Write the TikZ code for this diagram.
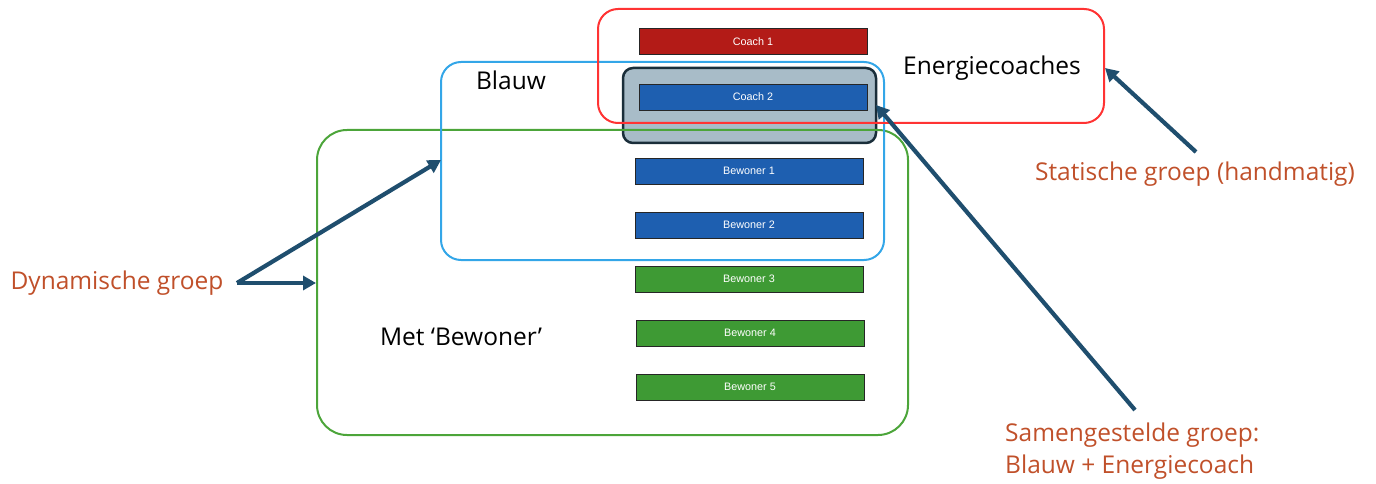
\documentclass[tikz,border=0pt]{standalone}
\usepackage{fontspec}
\setmainfont{Open Sans}
\newfontfamily\boxfont{Liberation Sans}
\usetikzlibrary{arrows.meta}
\definecolor{cred}{HTML}{FF3333}
\definecolor{cblue}{HTML}{33A6E8}
\definecolor{cgreen}{HTML}{4CA53A}
\definecolor{cdark}{HTML}{1A2E3A}
\definecolor{cgray}{HTML}{A8BCC8}
\definecolor{fred}{HTML}{B31B17}
\definecolor{fblue}{HTML}{1E5FB0}
\definecolor{fgreen}{HTML}{3E9A34}
\definecolor{arr}{HTML}{1F4E6E}
\definecolor{lbl}{HTML}{C0502A}
\tikzset{
  member/.style={draw=black!85, line width=0.9pt, minimum width=228pt, minimum height=26pt, inner sep=0pt, text=white, font=\boxfont\fontsize{10.8}{12}\selectfont},
  grp/.style={line width=2pt, rounded corners=20pt},
  pointer/.style={draw=arr, line width=4.2pt, -{Triangle[length=13pt,width=14pt]}},
  note/.style={text=lbl, font=\fontsize{24.5}{32}\selectfont, inner sep=0pt},
  title/.style={text=black, font=\fontsize{24.5}{30}\selectfont, inner sep=0pt}
}
\begin{document}
\begin{tikzpicture}[x=1pt,y=-1pt]
\useasboundingbox (0,0) rectangle (1376,484);
% composite group
\node[draw=cdark, fill=cgray, line width=2.5pt, rounded corners=10pt, minimum width=253pt, minimum height=75pt, inner sep=0pt] (comp) at (749.5,105.5) {};
% groups
\draw[grp, draw=cgreen, rounded corners=30pt] (317,130) rectangle (908,435);
\draw[grp, draw=cblue] (441,62) rectangle (884,260);
\draw[grp, draw=cred] (598,9) rectangle (1104,123);
% members
\node[member, fill=fred] (c1) at (753,41.5) {Coach 1};
\node[member, fill=fblue] (c2) at (753,97) {Coach 2};
\node[member, fill=fblue] (b1) at (749,171) {Bewoner 1};
\node[member, fill=fblue] (b2) at (749,225) {Bewoner 2};
\node[member, fill=fgreen] (b3) at (749,279) {Bewoner 3};
\node[member, fill=fgreen] (b4) at (750,333) {Bewoner 4};
\node[member, fill=fgreen] (b5) at (750,387) {Bewoner 5};
% titles
\node[title] (tblauw) at (511,80) {Blauw};
\node[title] (tenergie) at (992,68) {Energiecoaches};
\node[title] (tmet) at (461,337) {Met ‘Bewoner’};
% notes
\node[note] (ndyn) at (117,283) {Dynamische groep};
\node[note] (nstat) at (1195,174) {Statische groep (handmatig)};
\node[note, align=left, anchor=base west] (nsam) at (1005,473.5) {Samengestelde groep:\\Blauw + Energiecoach};
% anchor points
\coordinate (dynstart) at (237,283);
\coordinate (blueedge) at (441,160);
\coordinate (greenedge) at (316,283);
\coordinate (statstart) at (1196,152);
\coordinate (rededge) at (1105,68);
\coordinate (samstart) at (1135,410);
\coordinate (compedge) at (876,105);
% pointers
\draw[pointer] (dynstart) -- (blueedge);
\draw[pointer] (dynstart) -- (greenedge);
\draw[pointer] (statstart) -- (rededge);
\draw[pointer] (samstart) -- (compedge);
\end{tikzpicture}
\end{document}
